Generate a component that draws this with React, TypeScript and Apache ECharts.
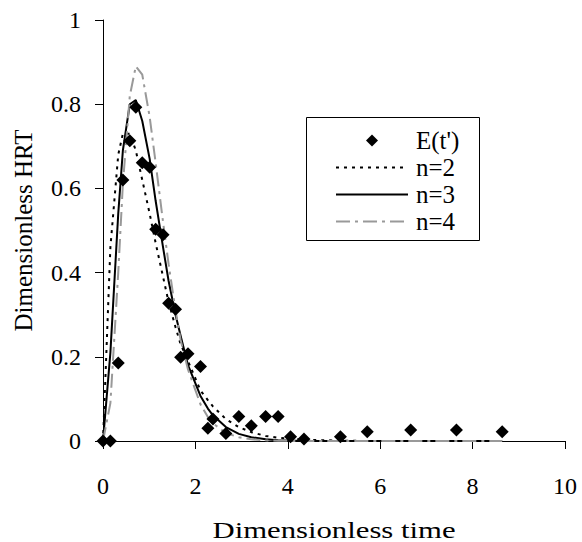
import React, { useEffect, useRef } from "react";
import * as echarts from "echarts";

// dimensionless time of each sample (the model curves use the same times)
const tPrime = [
  0, 0.16, 0.33, 0.43, 0.58, 0.71, 0.85, 1.01, 1.14, 1.3, 1.42, 1.57, 1.68,
  1.84, 2.11, 2.27, 2.38, 2.66, 2.94, 3.21, 3.52, 3.79, 4.06, 4.35, 5.14,
  5.72, 6.66, 7.65, 8.64,
];
const measured = [
  0, 0, 0.185, 0.62, 0.713, 0.793, 0.661, 0.65, 0.503, 0.49, 0.327, 0.313,
  0.199, 0.207, 0.177, 0.03, 0.052, 0.018, 0.058, 0.036, 0.058, 0.058, 0.01,
  0.005, 0.01, 0.022, 0.026, 0.026, 0.022,
];
const tanks2 = [
  0, 0.46, 0.68, 0.73, 0.73, 0.69, 0.62, 0.54, 0.47, 0.39, 0.33, 0.27, 0.23,
  0.19, 0.12, 0.097, 0.082, 0.052, 0.033, 0.021, 0.012, 0.008, 0.005, 0.003,
  0.001, 0, 0, 0, 0,
];
const tanks3 = [
  0, 0.21, 0.54, 0.69, 0.8, 0.81, 0.76, 0.67, 0.57, 0.46, 0.38, 0.3, 0.25,
  0.18, 0.107, 0.077, 0.061, 0.033, 0.017, 0.009, 0.004, 0.002, 0.001, 0.0005,
  0, 0, 0, 0, 0,
];
const tanks4 = [
  0, 0.09, 0.4, 0.61, 0.82, 0.89, 0.87, 0.77, 0.66, 0.52, 0.42, 0.31, 0.24,
  0.17, 0.087, 0.057, 0.042, 0.019, 0.009, 0.004, 0.0015, 0.0006, 0.0002,
  0.0001, 0, 0, 0, 0, 0,
];
const seriesNames = ["E(t')", "n=2", "n=3", "n=4"];
const xTitle = "Dimensionless time";
const yTitle = "Dimensionless HRT";

const FONT = "Liberation Serif, Times New Roman, serif";

const zip = (ys: number[]) => tPrime.map((t, i) => [t, ys[i]]);

// hide the dot that echarts puts in the middle of a line legend icon
const noDot = { color: "rgba(0,0,0,0)", borderWidth: 0, opacity: 0 };

const App: React.FC = () => {
  const chartRef = useRef<HTMLDivElement>(null);

  useEffect(() => {
    document.body.style.margin = "0";
    const chart = echarts.init(chartRef.current!, null, { renderer: "svg" });

    const axisCommon = {
      axisLine: { lineStyle: { color: "#000", width: 1 } },
      axisTick: { inside: false, length: 8, lineStyle: { color: "#000" } },
      splitLine: { show: false },
      nameTextStyle: { fontFamily: FONT, fontSize: 25, color: "#000" },
    };

    chart.setOption({
      animation: false,
      textStyle: { fontFamily: FONT },
      grid: { left: 103, right: 17, top: 20, bottom: 101 },
      graphic: [
        {
          type: "rect",
          shape: { x: 306.5, y: 117.5, width: 173, height: 123 },
          style: { fill: "#fff", stroke: "#000", lineWidth: 1 },
          z: 10,
        },
        {
          // x axis title, stretched sideways like the original
          type: "text",
          x: 334,
          y: 530,
          scaleX: 1.28,
          style: {
            text: xTitle,
            fontFamily: FONT,
            fontSize: 24,
            fill: "#000",
            textAlign: "center",
            textVerticalAlign: "middle",
          },
        },
      ],
      legend: {
        orient: "vertical",
        left: 335,
        top: 127,
        padding: 0,
        itemGap: 0,
        itemWidth: 72,
        itemHeight: 12,
        z: 20,
        data: [
          {
            name: seriesNames[0],
            icon: "path://M0,0 M72,12 M36,0 L42,6 L36,12 L30,6 Z",
            itemStyle: { color: "#000", opacity: 1 },
          },
          { name: seriesNames[1], itemStyle: noDot },
          { name: seriesNames[2], itemStyle: noDot },
          { name: seriesNames[3], itemStyle: noDot },
        ],
        textStyle: {
          fontFamily: FONT,
          fontSize: 25,
          lineHeight: 27,
          color: "#000",
          padding: [0, 0, 0, 3],
        },
      },
      xAxis: {
        ...axisCommon,
        type: "value",
        min: 0,
        max: 10,
        interval: 2,
        axisLabel: { fontFamily: FONT, fontSize: 24, color: "#000", margin: 33 },
      },
      yAxis: {
        ...axisCommon,
        type: "value",
        min: 0,
        max: 1,
        interval: 0.2,
        name: yTitle,
        nameLocation: "middle",
        nameGap: 67,
        axisLabel: {
          fontFamily: FONT,
          fontSize: 24,
          color: "#000",
          margin: 22,
          padding: [5, 0, 0, 0],
        },
      },
      series: [
        {
          name: seriesNames[0],
          type: "scatter",
          symbol: "diamond",
          symbolSize: 13,
          itemStyle: { color: "#000", opacity: 1 },
          data: zip(measured),
          z: 5,
        },
        {
          name: seriesNames[1],
          type: "line",
          showSymbol: false,
          symbol: "none",
          lineStyle: { color: "#000", width: 2, type: [3, 5] },
          itemStyle: { color: "#000" },
          data: zip(tanks2),
        },
        {
          name: seriesNames[2],
          type: "line",
          showSymbol: false,
          symbol: "none",
          lineStyle: { color: "#000", width: 2, type: "solid" },
          itemStyle: { color: "#000" },
          data: zip(tanks3),
        },
        {
          name: seriesNames[3],
          type: "line",
          showSymbol: false,
          symbol: "none",
          lineStyle: { color: "#999", width: 2, type: [14, 5, 3, 5] },
          itemStyle: { color: "#999" },
          data: zip(tanks4),
        },
      ],
    });

    return () => {
      chart.dispose();
    };
  }, []);

  return <div ref={chartRef} style={{ width: "582px", height: "542px" }} />;
};

export default App;
